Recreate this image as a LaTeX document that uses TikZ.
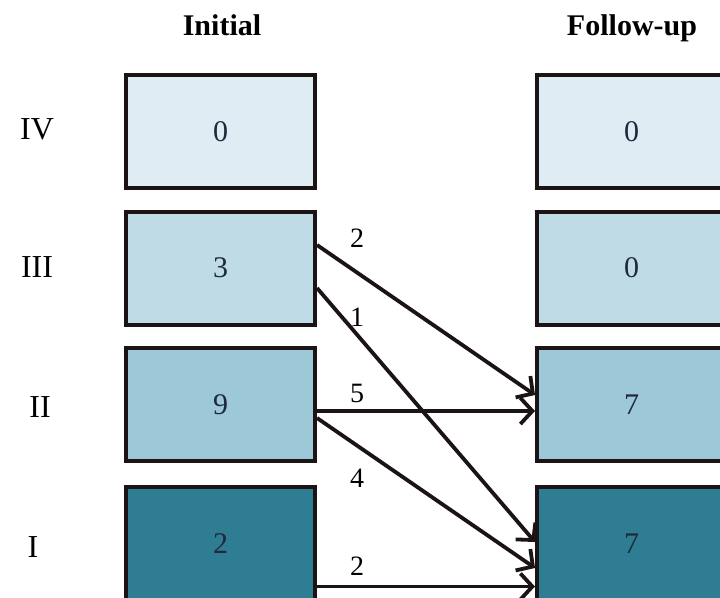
\documentclass[tikz,border=0pt]{standalone}
\usepackage{fontspec}
\setmainfont{Liberation Serif}
\usetikzlibrary{arrows.meta}
\definecolor{lvlIV}{RGB}{224,236,244}
\definecolor{lvlIII}{RGB}{191,220,230}
\definecolor{lvlII}{RGB}{157,200,216}
\definecolor{lvlI}{RGB}{47,125,147}
\definecolor{numtxt}{RGB}{30,42,60}
\definecolor{ink}{RGB}{28,20,20}
\tikzset{
  stagebox/.style={draw=ink, line width=4pt, rectangle, minimum width=189pt,
    minimum height=113pt, inner sep=0pt, text=numtxt, font=\fontsize{30}{30}\selectfont},
  header/.style={font=\fontsize{30}{30}\selectfont\bfseries, anchor=base},
  rowlabel/.style={font=\fontsize{32}{32}\selectfont, anchor=base},
  flowlabel/.style={font=\fontsize{28}{28}\selectfont, anchor=base},
  flow/.style={draw=ink, line width=3.8pt,
    -{Straight Barb[length=12pt,width=26pt,line width=3.8pt]}},
}
\begin{document}
\begin{tikzpicture}[x=1pt,y=-1pt]
  \useasboundingbox (0,0) rectangle (720,597);
  \clip (0,0) rectangle (720,597);
  \fill[white] (0,0) rectangle (720,597);

  % column headers
  \node[header] (hinit) at (222,35) {Initial};
  \node[header] (hfol) at (632,35) {Follow-up};

  % stage labels
  \node[rowlabel] (r4) at (37,139) {IV};
  \node[rowlabel] (r3) at (37,277) {III};
  \node[rowlabel] (r2) at (40,417) {II};
  \node[rowlabel] (r1) at (33,557) {I};

  % initial stages
  \node[stagebox, fill=lvlIV]  (L4) at (220.5,131.5) {0};
  \node[stagebox, fill=lvlIII] (L3) at (220.5,268) {3};
  \node[stagebox, fill=lvlII]  (L2) at (220.5,404.5) {9};
  \node[stagebox, fill=lvlI]   (L1) at (220.5,543.5) {2};

  % follow-up stages
  \node[stagebox, fill=lvlIV]  (R4) at (631.5,131.5) {0};
  \node[stagebox, fill=lvlIII] (R3) at (631.5,268) {0};
  \node[stagebox, fill=lvlII]  (R2) at (631.5,404.5) {7};
  \node[stagebox, fill=lvlI]   (R1) at (631.5,543.5) {7};

  % transitions between stages
  \draw[flow] ([yshift=23pt]L3.east) -- ([yshift=9.5pt]R2.west);
  \draw[flow] ([yshift=-20pt]L3.east) -- ([yshift=1.5pt]R1.west);
  \draw[flow] ([yshift=-6.5pt]L2.east) -- ([yshift=-6.5pt]R2.west);
  \draw[flow] ([yshift=-13.5pt]L2.east) -- ([yshift=-24.5pt]R1.west);
  \draw[flow] ([yshift=-43pt]L1.east) -- ([yshift=-43pt]R1.west);

  % transition counts
  \node[flowlabel] (c1) at (357,247) {2};
  \node[flowlabel] (c2) at (357,326) {1};
  \node[flowlabel] (c3) at (357,402) {5};
  \node[flowlabel] (c4) at (357,487) {4};
  \node[flowlabel] (c5) at (357,575) {2};
\end{tikzpicture}
\end{document}
